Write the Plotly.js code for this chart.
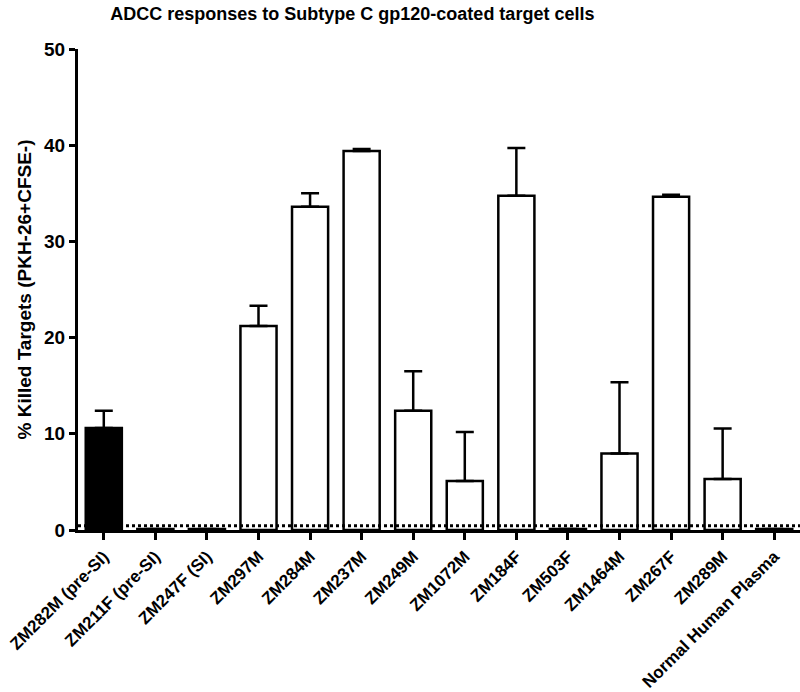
<!DOCTYPE html>
<html>
<head>
<meta charset="utf-8">
<script src="https://cdn.plot.ly/plotly-3.0.1.min.js"></script>
<style>html,body{margin:0;padding:0;background:#fff;}#chart{width:800px;height:692px;}</style>
</head>
<body>
<div id="chart"></div>
<script>
const categories = ["ZM282M (pre-SI)", "ZM211F (pre-SI)", "ZM247F (SI)", "ZM297M", "ZM284M", "ZM237M", "ZM249M", "ZM1072M", "ZM184F", "ZM503F", "ZM1464M", "ZM267F", "ZM289M", "Normal Human Plasma"];
const killed = [10.6, 0.1, 0.1, 21.2, 33.6, 39.4, 12.4, 5.1, 34.75, 0.1, 7.95, 34.65, 5.3, 0.1];
const errUp = [1.8, null, null, 2.1, 1.4, 0.2, 4.1, 5.1, 4.95, null, 7.4, 0.2, 5.25, null];
const fills = ["#000000", "#ffffff", "#ffffff", "#ffffff", "#ffffff", "#ffffff", "#ffffff", "#ffffff", "#ffffff", "#ffffff", "#ffffff", "#ffffff", "#ffffff", "#ffffff"];
const backgroundLevel = 0.45;
const yTicks = [0, 10, 20, 30, 40, 50];

const font = {family: "Liberation Sans, Arial, sans-serif", color: "#000", weight: "bold"};

const trace = {
  type: "bar",
  x: categories,
  y: killed,
  width: 0.7,
  marker: {color: fills, line: {color: "#000", width: 2.5}},
  error_y: {type: "data", symmetric: false, array: errUp, arrayminus: errUp.map(() => 0), color: "#000", thickness: 2.5, width: 9},
  hoverinfo: "x+y"
};

const layout = {
  width: 800, height: 692,
  margin: {l: 78, r: 0, t: 49, b: 162},
  paper_bgcolor: "#fff", plot_bgcolor: "#fff",
  showlegend: false,
  bargap: 0.3,
  title: {text: "ADCC responses to Subtype C gp120-coated target cells", font: Object.assign({size: 18}, font), x: 0.38, xanchor: "center", xref: "paper", y: 0.99, yanchor: "top"},
  xaxis: {
    range: [-0.5, 13.5],
    showline: true, linecolor: "#000", linewidth: 3,
    ticks: "outside", ticklen: 7, tickwidth: 3, tickcolor: "#000",
    tickangle: -45, tickfont: Object.assign({size: 17}, font),
    showgrid: false, zeroline: false
  },
  yaxis: {
    range: [0, 50],
    tickvals: yTicks, ticktext: yTicks.map(String),
    showline: true, linecolor: "#000", linewidth: 3,
    ticks: "outside", ticklen: 6, tickwidth: 3, tickcolor: "#000",
    tickfont: Object.assign({size: 19}, font),
    showgrid: false, zeroline: false,
    title: {text: "% Killed Targets (PKH-26+CFSE-)", font: Object.assign({size: 19}, font), standoff: 8}
  },
  shapes: [{type: "line", xref: "paper", x0: 0, x1: 1, yref: "y", y0: backgroundLevel, y1: backgroundLevel, line: {color: "#000", width: 3, dash: "dot"}, layer: "above"}]
};

Plotly.newPlot("chart", [trace], layout, {displayModeBar: false, staticPlot: true});
</script>
</body>
</html>
